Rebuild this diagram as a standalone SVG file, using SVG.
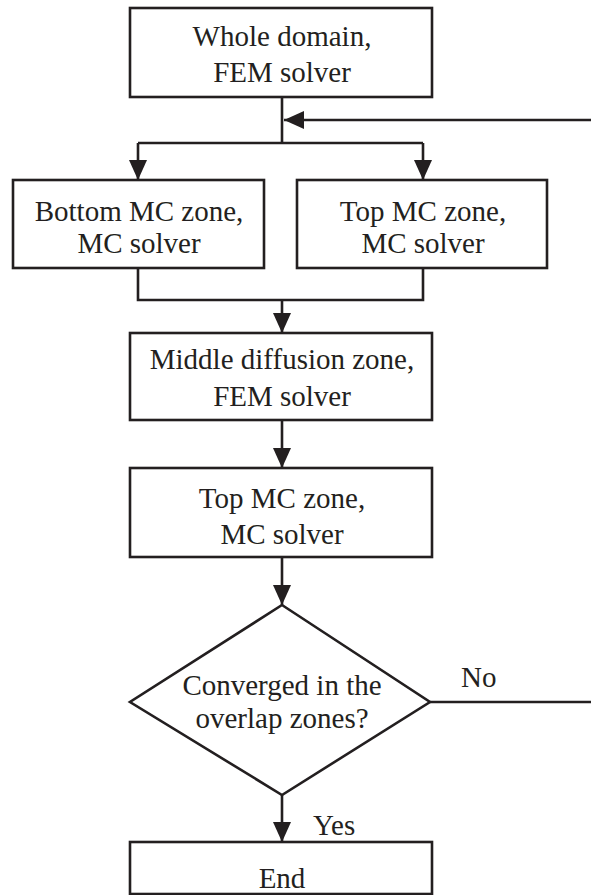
<svg xmlns="http://www.w3.org/2000/svg" width="591" height="895" viewBox="0 0 591 895">
<style>
.box{fill:#ffffff;stroke:#231f20;stroke-width:2.6}
.ln{fill:none;stroke:#231f20;stroke-width:2.6}
.t{font-family:'Liberation Serif','DejaVu Serif',serif;font-size:29px;fill:#231f20;text-anchor:middle}
.tl{font-family:'Liberation Serif','DejaVu Serif',serif;font-size:29px;fill:#231f20}
</style>
<defs>
<marker id="ah" viewBox="0 0 20 18" refX="20" refY="9" markerWidth="20" markerHeight="18" markerUnits="userSpaceOnUse" orient="auto">
<path d="M0,0 L20,9 L0,18 z" fill="#231f20"/>
</marker>
</defs>
<rect width="591" height="895" fill="#ffffff"/>
<g id="connectors">
<path class="ln" d="M282,97 V143"/>
<path class="ln" d="M138,143 H423"/>
<path class="ln" d="M138,143 V180" marker-end="url(#ah)"/>
<path class="ln" d="M423,143 V180" marker-end="url(#ah)"/>
<path class="ln" d="M591,120 H284" marker-end="url(#ah)"/>
<path class="ln" d="M138,268 V300 H423 V268"/>
<path class="ln" d="M282,300 V333" marker-end="url(#ah)"/>
<path class="ln" d="M282,420 V468" marker-end="url(#ah)"/>
<path class="ln" d="M282,557 V605" marker-end="url(#ah)"/>
<path class="ln" d="M282,795 V842" marker-end="url(#ah)"/>
<path class="ln" d="M430,702 H591"/>
<text class="tl" x="461" y="687">No</text>
<text class="tl" x="313" y="835">Yes</text>
</g>
<g id="whole">
<rect class="box" x="130" y="8" width="302" height="89"/>
<text class="t" x="282" y="46">Whole domain,</text>
<text class="t" x="282" y="82">FEM solver</text>
</g>
<g id="bottomMC">
<rect class="box" x="13" y="180" width="251" height="88"/>
<text class="t" x="139" y="221">Bottom MC zone,</text>
<text class="t" x="139" y="253">MC solver</text>
</g>
<g id="topMC1">
<rect class="box" x="297" y="180" width="250" height="88"/>
<text class="t" x="423" y="221">Top MC zone,</text>
<text class="t" x="423" y="253">MC solver</text>
</g>
<g id="middle">
<rect class="box" x="130" y="333" width="302" height="87"/>
<text class="t" x="282" y="369">Middle diffusion zone,</text>
<text class="t" x="282" y="406">FEM solver</text>
</g>
<g id="topMC2">
<rect class="box" x="130" y="468" width="302" height="89"/>
<text class="t" x="282" y="508">Top MC zone,</text>
<text class="t" x="282" y="544">MC solver</text>
</g>
<g id="decision">
<polygon class="box" points="282,605 430,702 282,795 130,702"/>
<text class="t" x="282" y="695">Converged in the</text>
<text class="t" x="282" y="728">overlap zones?</text>
</g>
<g id="end">
<rect class="box" x="130" y="842" width="302" height="52"/>
<text class="t" x="282" y="888">End</text>
</g>
</svg>
